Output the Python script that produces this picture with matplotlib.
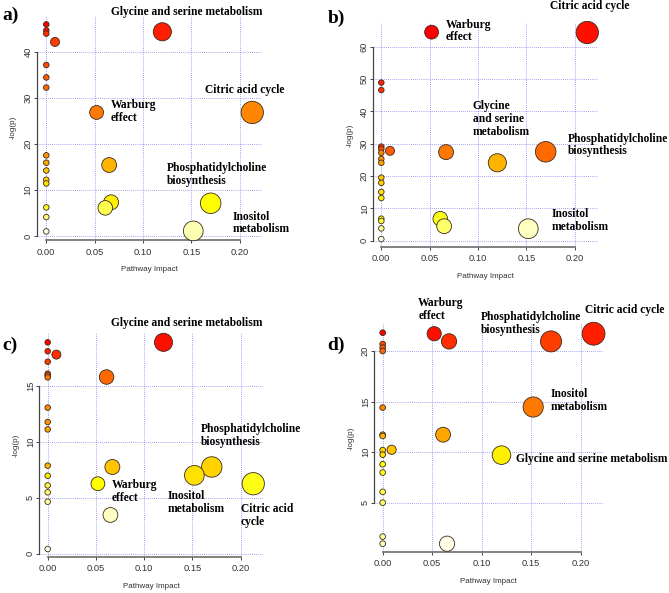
import colorsys
import numpy as np
import matplotlib
matplotlib.use("Agg")
import matplotlib.pyplot as plt
from matplotlib.ticker import FormatStrFormatter

W, H = 669, 593

# pathway impact / -log(p)
impact_a = [0, 0, 0, 0, 0, 0, 0, 0, 0, 0, 0, 0, 0, 0,
            0.009, 0.052, 0.061, 0.065, 0.067, 0.12, 0.152, 0.17, 0.213]
logp_a = [45.9, 44.6, 43.9, 37.1, 34.4, 32.2, 17.5, 15.9, 14.2, 12.2, 11.4, 6.2, 4.1, 1.0,
          42.1, 26.8, 6.1, 15.4, 7.3, 44.3, 1.1, 7.1, 26.8]

impact_b = [0, 0, 0, 0, 0, 0, 0, 0, 0, 0, 0, 0, 0, 0, 0,
            0.009, 0.052, 0.061, 0.065, 0.067, 0.12, 0.152, 0.17, 0.213]
logp_b = [48.9, 46.6, 29.1, 28.4, 27.2, 25.3, 24.1, 19.5, 17.9, 15.1, 13.2, 6.8, 6.1, 3.8, 0.5,
          27.8, 64.5, 6.8, 4.5, 27.4, 24.1, 3.7, 27.5, 64.4]

impact_c = [0, 0, 0, 0, 0, 0, 0, 0, 0, 0, 0, 0, 0, 0, 0,
            0.009, 0.052, 0.061, 0.065, 0.067, 0.12, 0.152, 0.17, 0.213]
logp_c = [18.94, 18.14, 17.2, 16.13, 15.98, 15.8, 13.09, 11.8, 11.14, 7.89, 6.99, 6.12, 5.5, 4.66, 0.42,
          17.84, 6.27, 15.83, 3.47, 7.77, 18.94, 7.02, 7.77, 6.27]

impact_d = [0, 0, 0, 0, 0, 0, 0, 0, 0, 0, 0, 0, 0, 0, 0,
            0.009, 0.052, 0.061, 0.065, 0.067, 0.12, 0.152, 0.17, 0.213]
logp_d = [21.81, 20.69, 20.33, 20.0, 14.4, 11.72, 11.6, 10.2, 9.74, 8.8, 7.98, 6.07, 5.0, 1.64, 0.94,
          10.23, 21.71, 11.72, 0.94, 20.95, 9.7, 14.46, 20.95, 21.71]

xticks = [0, 0.05, 0.10, 0.15, 0.20]
yticks_a = [0, 10, 20, 30, 40]
yticks_b = [0, 10, 20, 30, 40, 50, 60]
yticks_c = [0, 5, 10, 15]
yticks_d = [5, 10, 15, 20]

# labels: (text, left px, centre px)
labels_a = [("Glycine and serine metabolism", 111, 11.7),
            ("Citric acid cycle", 205, 90),
            ("Warburg\neffect", 111, 111.5),
            ("Phosphatidylcholine\nbiosynthesis", 166.7, 174.5),
            ("Inositol\nmetabolism", 233, 223)]
labels_b = [("Citric acid cycle", 550, 5.7),
            ("Warburg\neffect", 446, 31),
            ("Glycine\nand serine\nmetabolism", 472.7, 119.3),
            ("Phosphatidylcholine\nbiosynthesis", 567.7, 145),
            ("Inositol\nmetabolism", 551.7, 220.2)]
labels_c = [("Glycine and serine metabolism", 111, 322.7),
            ("Phosphatidylcholine\nbiosynthesis", 201, 435.4),
            ("Warburg\neffect", 111.7, 491.7),
            ("Inositol\nmetabolism", 167.7, 502.5),
            ("Citric acid\ncycle", 241, 515.2)]
labels_d = [("Warburg\neffect", 418.3, 309.2),
            ("Phosphatidylcholine\nbiosynthesis", 480.7, 323.5),
            ("Citric acid cycle", 585, 310),
            ("Inositol\nmetabolism", 551, 400.7),
            ("Glycine and serine metabolism", 516, 459.3)]

panels = [
    # letter, impact, logp, yticks, labels, layout (x0, sx, y0, sy, left, right, top, bottom) in px
    ("a)", impact_a, logp_a, yticks_a, labels_a, (46.3, 967, 236, 4.61, 36.7, 261.7, 15, 240), (2, 15)),
    ("b)", impact_b, logp_b, yticks_b, labels_b, (381.3, 967, 240.7, 3.233, 373.3, 598.3, 23.3, 246.7), (328, 18)),
    ("c)", impact_c, logp_c, yticks_c, labels_c, (47.7, 965, 553.7, 11.16, 39.3, 263.3, 333.3, 556.7), (2, 345)),
    ("d)", impact_d, logp_d, yticks_d, labels_d, (382.7, 990, 553.2, 10.11, 374.3, 603.3, 324.3, 551.7), (327, 345)),
]


def heat_colors(n):
    # same as R's heat.colors(n)
    j = n // 4
    i = n - j
    cols = [colorsys.hsv_to_rgb(h, 1, 1) for h in np.linspace(0, 1 / 6, i)]
    if j > 0:
        cols += [colorsys.hsv_to_rgb(1 / 6, s, 1) for s in np.linspace(1 - 1 / (2 * j), 1 / (2 * j), j)]
    return cols


fig = plt.figure(figsize=(W / 100, H / 100), dpi=100)
fig.patch.set_facecolor("white")

serif = dict(fontfamily="Liberation Serif", fontweight="bold", color="black")
sans = ["Liberation Sans", "DejaVu Sans"]

for letter, imp, lp, yt, labels, lay, lpos in panels:
    x0, sx, y0, sy, left, right, top, bottom = lay
    ax = fig.add_axes([left / W, 1 - bottom / H, (right - left) / W, (bottom - top) / H])
    ax.set_xlim((left - x0) / sx, (right - x0) / sx)
    ax.set_ylim((y0 - bottom) / sy, (y0 - top) / sy)

    x = np.array(imp, dtype=float)
    y = np.array(lp, dtype=float)
    order = np.argsort(-y, kind="stable")
    x, y = x[order], y[order]
    cols = heat_colors(len(y))

    # circle radius as in MetaboAnalyst (in x units), then to points
    sq = np.sqrt(x)
    mx, mn = sq.max(), sq.min()
    maxR = (mx - mn) / 40
    minR = (mx - mn) / 160
    rad = minR + (maxR - minR) * (sq - mn) / (mx - mn)
    rad_px = rad * sx
    sizes = (2 * rad_px * 72 / 100) ** 2

    ax.scatter(x, y, s=sizes, c=cols, edgecolors="#3a2a20", linewidths=0.6,
               zorder=3, clip_on=False)

    ax.set_xticks(xticks)
    ax.set_yticks(yt)
    ax.xaxis.set_major_formatter(FormatStrFormatter("%.2f"))
    ax.grid(True, color="#3030e0", linestyle=(0, (1, 1.5)), linewidth=0.6, alpha=0.6)
    ax.set_axisbelow(True)

    for s in ["top", "right"]:
        ax.spines[s].set_visible(False)
    ax.spines["left"].set_bounds(yt[0], yt[-1])
    ax.spines["bottom"].set_bounds(0, 0.2)
    ax.spines["left"].set_color("#444444")
    ax.spines["left"].set_linewidth(0.9)
    ax.spines["bottom"].set_color("#777777")
    ax.spines["bottom"].set_linewidth(1.3)

    ax.tick_params(axis="both", length=2.2, width=0.7, colors="#444444", labelsize=6.7)
    ax.tick_params(axis="y", pad=1)
    ax.tick_params(axis="x", pad=3.4)
    for t in ax.get_xticklabels() + ax.get_yticklabels():
        t.set_fontfamily(sans)
        t.set_color("#333333")
    plt.setp(ax.get_yticklabels(), rotation=90, va="center")

    cx = (left + right) / 2
    cy = (top + bottom) / 2
    fig.text(cx / W, 1 - (bottom + 29.5) / H, "Pathway Impact", ha="center", va="center",
             fontsize=5.8, family=sans, color="#333333")
    fig.text((left - 23.5) / W, 1 - cy / H, "-log(p)", ha="center", va="center",
             rotation=90, fontsize=5.8, family=sans, color="#333333")

    for txt, lx, ly in labels:
        fig.text(lx / W, 1 - ly / H, txt, ha="left", va="center", fontsize=8.3,
                 linespacing=1.1, **serif)

    fig.text(lpos[0] / W, 1 - lpos[1] / H, letter, ha="left", va="center", fontsize=14, **serif)

fig.savefig("out.png", dpi=100, facecolor="white")
